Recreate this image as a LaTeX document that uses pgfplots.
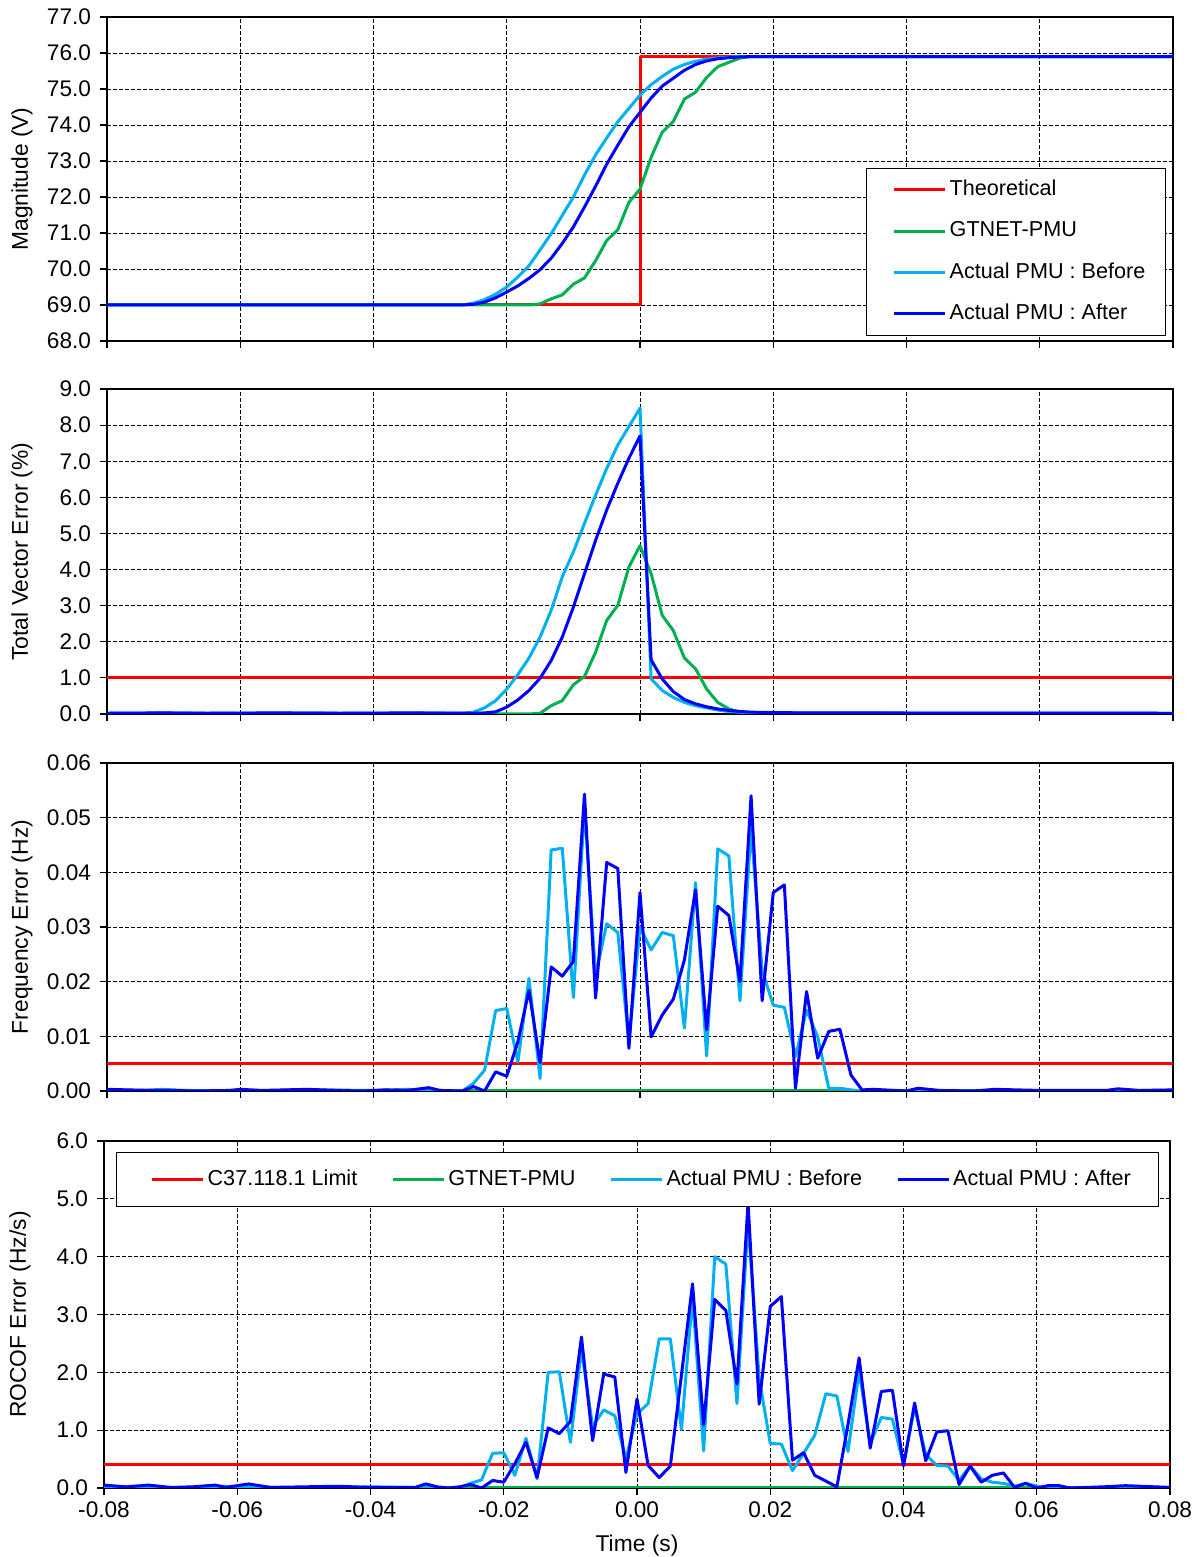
\documentclass[border=0pt]{standalone}
\usepackage{fontspec}
\setmainfont{Liberation Sans}
\usepackage{pgfplots}
\pgfplotsset{compat=1.18}
\definecolor{cred}{RGB}{255,0,0}
\definecolor{cgreen}{RGB}{0,176,80}
\definecolor{clight}{RGB}{0,176,240}
\definecolor{cdark}{RGB}{0,0,255}
\pgfplotsset{
  panel/.style={
    scale only axis, width=533pt,
    xmin=-0.08, xmax=0.08,
    xtick={-0.08,-0.06,-0.04,-0.02,0,0.02,0.04,0.06,0.08},
    scaled ticks=false,
    grid=major,
    major grid style={black, line width=0.45pt, dash pattern=on 2pt off 1pt},
    axis line style={black, line width=0.7pt},
    tick style={black, line width=0.6pt},
    tick align=outside, major tick length=3.5pt,
    xtick pos=bottom, ytick pos=left,
    ticklabel style={font=\fontsize{11.3}{13}\selectfont},
    yticklabel style={xshift=-1pt},
    /pgf/number format/assume math mode=true,
    legend image code/.code={\path (0pt,0pt); \draw[##1] (4.5pt,0pt) -- (30pt,0pt);},
    legend cell align=left,
  },
  pl/.style={line width=1.5pt, line join=round, mark=none},
}
\begin{document}
\begin{tikzpicture}
\path[use as bounding box] (0,0) rectangle (600pt,778.5pt);

% ---------------- Panel 1: Magnitude
\begin{axis}[panel, at={(53.5pt,608pt)}, anchor=south west, height=162pt,
  ymin=68, ymax=77, ytick={68,69,70,71,72,73,74,75,76,77},
  yticklabels={68.0,69.0,70.0,71.0,72.0,73.0,74.0,75.0,76.0,77.0},
  xticklabels={},
  ylabel={Magnitude (V)},
  every axis y label/.style={at={(axis description cs:-0.0797,0.5)}, rotate=90, anchor=center, font=\fontsize{11.4}{13}\selectfont},
  legend style={at={(0.9934,0.534)}, anchor=north east, draw=black, line width=0.6pt,
    font=\fontsize{10.8}{12}\selectfont, inner xsep=8.5pt, inner ysep=4pt, row sep=7.5pt,
    nodes={inner sep=1.5pt, text height=8pt, text depth=2.2pt}},
]
\addplot[pl, cred] table {
-0.08 69
0 69
0 75.9
0.08 75.9
};
\addlegendentry{Theoretical}
\addplot[pl, cgreen] table {
-0.08 69
-0.016667 69
-0.015 69.03
-0.013333 69.17
-0.011667 69.28
-0.010 69.58
-0.008333 69.75
-0.006667 70.23
-0.005 70.79
-0.003333 71.09
-0.001667 71.85
0 72.22
0.001667 73.10
0.003333 73.80
0.005 74.10
0.006667 74.72
0.008333 74.91
0.010 75.32
0.011667 75.62
0.013333 75.74
0.015 75.86
0.016667 75.9
0.08 75.9
};
\addlegendentry{GTNET-PMU}
\addplot[pl, clight] table {
-0.08 69
-0.026667 69
-0.025 69.05
-0.023333 69.15
-0.021667 69.30
-0.02 69.50
-0.018333 69.78
-0.016667 70.09
-0.015 70.53
-0.013333 70.98
-0.011667 71.49
-0.01 72.00
-0.008333 72.61
-0.006667 73.17
-0.005 73.64
-0.003333 74.09
-0.001667 74.46
0 74.83
0.001667 75.12
0.003333 75.35
0.005 75.55
0.006667 75.68
0.008333 75.77
0.01 75.83
0.011667 75.86
0.013333 75.88
0.015 75.9
0.08 75.9
};
\addlegendentry{Actual PMU : Before}
\addplot[pl, cdark] table {
-0.08 69
-0.026667 69
-0.025 69.02
-0.023333 69.08
-0.021667 69.20
-0.02 69.36
-0.018333 69.53
-0.016667 69.74
-0.015 69.98
-0.013333 70.30
-0.011667 70.71
-0.01 71.17
-0.008333 71.72
-0.006667 72.30
-0.005 72.91
-0.003333 73.44
-0.001667 73.95
0 74.35
0.001667 74.75
0.003333 75.08
0.005 75.30
0.006667 75.52
0.008333 75.68
0.01 75.78
0.011667 75.84
0.013333 75.87
0.015 75.89
0.016667 75.9
0.08 75.9
};
\addlegendentry{Actual PMU : After}
\end{axis}

% ---------------- Panel 2: TVE
\begin{axis}[panel, at={(53.5pt,421.5pt)}, anchor=south west, height=162.5pt,
  ymin=0, ymax=9, ytick={0,1,2,3,4,5,6,7,8,9},
  yticklabels={0.0,1.0,2.0,3.0,4.0,5.0,6.0,7.0,8.0,9.0},
  xticklabels={},
  ylabel={Total Vector Error (\%)},
  every axis y label/.style={at={(axis description cs:-0.0797,0.5)}, rotate=90, anchor=center, font=\fontsize{11.4}{13}\selectfont},
]
\addplot[pl, cred] table {
-0.08 1
0.08 1
};
\addplot[pl, cgreen] table {
-0.08 0
-0.016667 0
-0.015 0.02
-0.013333 0.23
-0.011667 0.37
-0.01 0.81
-0.008333 1.04
-0.006667 1.71
-0.005 2.59
-0.003333 3.01
-0.001667 4.07
0 4.66
0.001667 3.89
0.003333 2.73
0.005 2.31
0.006667 1.55
0.008333 1.25
0.01 0.69
0.011667 0.32
0.013333 0.14
0.015 0.05
0.016667 0.02
0.018333 0
0.08 0
};
\addplot[pl, clight] table {
-0.08 0.02
-0.07 0.03
-0.06 0.02
-0.05 0.03
-0.04 0.02
-0.03 0.03
-0.026667 0.02
-0.025 0.05
-0.023333 0.17
-0.021667 0.37
-0.02 0.69
-0.018333 1.09
-0.016667 1.55
-0.015 2.13
-0.013333 2.87
-0.011667 3.80
-0.01 4.49
-0.008333 5.28
-0.006667 6.06
-0.005 6.80
-0.003333 7.45
-0.001667 7.96
0 8.47
0.001667 0.97
0.003333 0.65
0.005 0.46
0.006667 0.32
0.008333 0.23
0.01 0.17
0.011667 0.11
0.013333 0.07
0.015 0.05
0.016667 0.04
0.02 0.03
0.08 0.02
};
\addplot[pl, cdark] table {
-0.08 0.02
-0.072 0.03
-0.065 0.02
-0.055 0.03
-0.045 0.02
-0.035 0.03
-0.025 0.02
-0.023333 0.03
-0.021667 0.06
-0.02 0.19
-0.018333 0.39
-0.016667 0.65
-0.015 0.99
-0.013333 1.48
-0.011667 2.13
-0.01 2.96
-0.008333 3.89
-0.006667 4.81
-0.005 5.65
-0.003333 6.39
-0.001667 7.08
0 7.70
0.001667 1.50
0.003333 0.97
0.005 0.62
0.006667 0.40
0.008333 0.28
0.01 0.20
0.011667 0.14
0.013333 0.10
0.015 0.07
0.016667 0.05
0.02 0.04
0.025 0.03
0.08 0.02
};
\end{axis}

% ---------------- Panel 3: Frequency error
\begin{axis}[panel, at={(53.5pt,233pt)}, anchor=south west, height=164pt,
  ymin=0, ymax=0.06, ytick={0,0.01,0.02,0.03,0.04,0.05,0.06},
  yticklabels={0.00,0.01,0.02,0.03,0.04,0.05,0.06},
  xticklabels={},
  ylabel={Frequency Error (Hz)},
  every axis y label/.style={at={(axis description cs:-0.0797,0.5)}, rotate=90, anchor=center, font=\fontsize{11.4}{13}\selectfont},
]
\addplot[pl, cred] table {
-0.08 0.005
0.08 0.005
};
\addplot[pl, cgreen] table {
-0.08 0
0.08 0
};
\addplot[pl, clight] table {
-0.08 0.0002
-0.075 0.0001
-0.0717 0.0003
-0.0683 0.0001
-0.06 0.0
-0.05 0.0002
-0.04 0.0001
-0.035 0.0003
-0.03 0.0001
-0.026667 0.0
-0.025 0.0014
-0.023333 0.0038
-0.021667 0.0147
-0.02 0.0151
-0.018333 0.0053
-0.016667 0.0206
-0.015 0.0023
-0.013333 0.0441
-0.011667 0.0444
-0.01 0.0171
-0.008333 0.052
-0.006667 0.021
-0.005 0.0306
-0.003333 0.029
-0.001667 0.009
0 0.030
0.001667 0.0258
0.003333 0.029
0.005 0.0284
0.006667 0.0115
0.008333 0.0381
0.01 0.0064
0.011667 0.0443
0.013333 0.043
0.015 0.0165
0.016667 0.048
0.018333 0.0221
0.02 0.0157
0.021667 0.0153
0.023333 0.0063
0.025 0.0148
0.026667 0.0099
0.028333 0.0005
0.03 0.0005
0.031667 0.0002
0.033333 0
0.08 0.0001
};
\addplot[pl, cdark] table {
-0.08 0.0003
-0.0767 0.0002
-0.0733 0.0001
-0.07 0.0001
-0.0667 0.0
-0.0617 0.0001
-0.06 0.0003
-0.0567 0.0001
-0.05 0.0003
-0.045 0.0001
-0.0417 0.0
-0.0383 0.0002
-0.035 0.0001
-0.0317 0.0006
-0.03 0.0001
-0.026667 0.0
-0.025 0.0008
-0.023333 0.0
-0.021667 0.0035
-0.02 0.0027
-0.018333 0.009
-0.016667 0.0184
-0.015 0.0052
-0.013333 0.0227
-0.011667 0.021
-0.01 0.0237
-0.008333 0.0543
-0.006667 0.017
-0.005 0.0418
-0.003333 0.0407
-0.001667 0.0078
0 0.0363
0.001667 0.0099
0.003333 0.0139
0.005 0.0168
0.006667 0.024
0.008333 0.0368
0.01 0.0112
0.011667 0.0338
0.013333 0.0321
0.015 0.020
0.016667 0.054
0.018333 0.0165
0.02 0.0363
0.021667 0.0377
0.023333 0.0005
0.025 0.0182
0.026667 0.006
0.028333 0.0109
0.03 0.0113
0.031667 0.0029
0.033333 0.0002
0.035 0.0003
0.04 0.0
0.0417 0.0005
0.045 0.0001
0.05 0.0
0.0533 0.0003
0.06 0.0001
0.07 0.0001
0.0717 0.0004
0.075 0.0001
0.08 0.0002
};
\end{axis}

% ---------------- Panel 4: ROCOF error
\begin{axis}[panel, at={(52pt,34.5pt)}, anchor=south west, height=173.5pt,
  ymin=0, ymax=6, ytick={0,1,2,3,4,5,6},
  yticklabels={0.0,1.0,2.0,3.0,4.0,5.0,6.0},
  xticklabels={-0.08,-0.06,-0.04,-0.02,0.00,0.02,0.04,0.06,0.08},
  xlabel={Time (s)},
  ylabel={ROCOF Error (Hz/s)},
  every axis y label/.style={at={(axis description cs:-0.0788,0.5)}, rotate=90, anchor=center, font=\fontsize{11.4}{13}\selectfont},
  every axis x label/.style={at={(axis description cs:0.5,-0.167)}, anchor=center, font=\fontsize{11.4}{13}\selectfont},
  legend columns=4,
  legend style={at={(0.0113,0.968)}, anchor=north west, draw=black, line width=0.6pt,
    font=\fontsize{10.8}{12}\selectfont, inner xsep=12.5pt, inner ysep=6.8pt,
    nodes={inner sep=1.5pt, text height=8pt, text depth=2.2pt},
    /tikz/every even column/.append style={column sep=11pt}},
]
\addplot[pl, cred] table {
-0.08 0.4
0.08 0.4
};
\addlegendentry{C37.118.1 Limit}
\addplot[pl, cgreen] table {
-0.08 0
0.08 0
};
\addlegendentry{GTNET-PMU}
\addplot[pl, clight] table {
-0.08 0.02
-0.07 0.0
-0.0617 0.03
-0.05 0.0
-0.04 0.02
-0.03 0.0
-0.026667 0.0
-0.025 0.08
-0.023333 0.14
-0.021667 0.60
-0.02 0.61
-0.018333 0.22
-0.016667 0.86
-0.015 0.16
-0.013333 2.00
-0.011667 2.01
-0.01 0.79
-0.008333 2.40
-0.006667 1.06
-0.005 1.35
-0.003333 1.25
-0.001667 0.50
0 1.28
0.001667 1.46
0.003333 2.58
0.005 2.58
0.006667 1.01
0.008333 3.30
0.01 0.64
0.011667 4.00
0.013333 3.87
0.015 1.46
0.016667 4.60
0.018333 1.90
0.02 0.77
0.021667 0.76
0.023333 0.30
0.025 0.60
0.026667 0.91
0.028333 1.63
0.03 1.59
0.031667 0.63
0.033333 2.02
0.035 0.77
0.036667 1.22
0.038333 1.19
0.04 0.40
0.041667 1.40
0.043333 0.58
0.045 0.39
0.046667 0.38
0.048333 0.13
0.05 0.38
0.051667 0.16
0.053333 0.10
0.055 0.08
0.056667 0.03
0.058333 0.08
0.06 0.03
0.061667 0.0
0.08 0.01
};
\addlegendentry{Actual PMU : Before}
\addplot[pl, cdark] table {
-0.08 0.05
-0.0767 0.02
-0.0733 0.05
-0.07 0.01
-0.0667 0.02
-0.0633 0.05
-0.0617 0.01
-0.0583 0.07
-0.055 0.01
-0.05 0.02
-0.045 0.03
-0.04 0.01
-0.0333 0.01
-0.0317 0.07
-0.03 0.02
-0.028333 0.0
-0.026667 0.02
-0.025 0.06
-0.023333 0.0
-0.021667 0.13
-0.02 0.10
-0.018333 0.42
-0.016667 0.79
-0.015 0.18
-0.013333 1.04
-0.011667 0.94
-0.01 1.15
-0.008333 2.61
-0.006667 0.82
-0.005 1.97
-0.003333 1.92
-0.001667 0.27
0 1.54
0.001667 0.39
0.003333 0.18
0.005 0.38
0.006667 1.95
0.008333 3.53
0.01 1.09
0.011667 3.26
0.013333 3.07
0.015 1.80
0.016667 4.93
0.018333 1.45
0.02 3.14
0.021667 3.31
0.023333 0.48
0.025 0.61
0.026667 0.22
0.028333 0.12
0.03 0.02
0.031667 1.10
0.033333 2.25
0.035 0.69
0.036667 1.67
0.038333 1.69
0.04 0.38
0.041667 1.47
0.043333 0.47
0.045 0.97
0.046667 0.99
0.048333 0.06
0.05 0.38
0.051667 0.10
0.053333 0.22
0.055 0.26
0.056667 0.01
0.058333 0.08
0.06 0.0
0.061667 0.04
0.063333 0.04
0.065 0.0
0.07 0.02
0.0733 0.04
0.08 0.01
};
\addlegendentry{Actual PMU : After}
\end{axis}
\end{tikzpicture}
\end{document}
